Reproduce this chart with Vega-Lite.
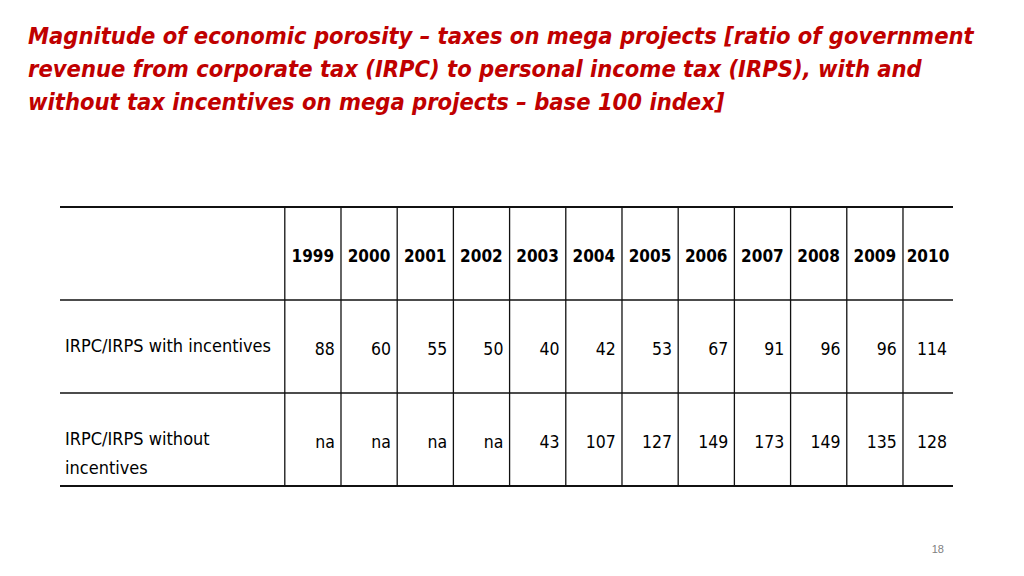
{
  "$schema": "https://vega.github.io/schema/vega-lite/v6.json",
  "width": 893,
  "height": 279,
  "autosize": {"type": "none"},
  "padding": {"left": 60, "top": 207, "right": 71, "bottom": 90},
  "background": "white",
  "config": {"view": {"stroke": null}, "font": "'DejaVu Sans Condensed', 'Liberation Sans', sans-serif"},
  "title": {
    "text": [
      "Magnitude of economic porosity – taxes on mega projects [ratio of government",
      "revenue from corporate tax (IRPC) to personal income tax (IRPS), with and",
      "without tax incentives on mega projects – base 100 index]"
    ],
    "anchor": "start",
    "frame": "group",
    "align": "left",
    "dx": -32,
    "offset": 91,
    "font": "'DejaVu Sans Condensed', 'Liberation Sans', sans-serif",
    "fontSize": 23.5,
    "fontWeight": "bold",
    "fontStyle": "italic",
    "color": "#C00000",
    "lineHeight": 33
  },
  "datasets": {
    "years": [
      {"year": 1999, "row": 0}, {"year": 2000, "row": 0}, {"year": 2001, "row": 0}, {"year": 2002, "row": 0},
      {"year": 2003, "row": 0}, {"year": 2004, "row": 0}, {"year": 2005, "row": 0}, {"year": 2006, "row": 0},
      {"year": 2007, "row": 0}, {"year": 2008, "row": 0}, {"year": 2009, "row": 0}, {"year": 2010, "row": 0}
    ],
    "values": [
      {"series": "IRPC/IRPS with incentives", "row": 1, "year": 1999, "value": "88"},
      {"series": "IRPC/IRPS with incentives", "row": 1, "year": 2000, "value": "60"},
      {"series": "IRPC/IRPS with incentives", "row": 1, "year": 2001, "value": "55"},
      {"series": "IRPC/IRPS with incentives", "row": 1, "year": 2002, "value": "50"},
      {"series": "IRPC/IRPS with incentives", "row": 1, "year": 2003, "value": "40"},
      {"series": "IRPC/IRPS with incentives", "row": 1, "year": 2004, "value": "42"},
      {"series": "IRPC/IRPS with incentives", "row": 1, "year": 2005, "value": "53"},
      {"series": "IRPC/IRPS with incentives", "row": 1, "year": 2006, "value": "67"},
      {"series": "IRPC/IRPS with incentives", "row": 1, "year": 2007, "value": "91"},
      {"series": "IRPC/IRPS with incentives", "row": 1, "year": 2008, "value": "96"},
      {"series": "IRPC/IRPS with incentives", "row": 1, "year": 2009, "value": "96"},
      {"series": "IRPC/IRPS with incentives", "row": 1, "year": 2010, "value": "114"},
      {"series": "IRPC/IRPS without incentives", "row": 2, "year": 1999, "value": "na"},
      {"series": "IRPC/IRPS without incentives", "row": 2, "year": 2000, "value": "na"},
      {"series": "IRPC/IRPS without incentives", "row": 2, "year": 2001, "value": "na"},
      {"series": "IRPC/IRPS without incentives", "row": 2, "year": 2002, "value": "na"},
      {"series": "IRPC/IRPS without incentives", "row": 2, "year": 2003, "value": "43"},
      {"series": "IRPC/IRPS without incentives", "row": 2, "year": 2004, "value": "107"},
      {"series": "IRPC/IRPS without incentives", "row": 2, "year": 2005, "value": "127"},
      {"series": "IRPC/IRPS without incentives", "row": 2, "year": 2006, "value": "149"},
      {"series": "IRPC/IRPS without incentives", "row": 2, "year": 2007, "value": "173"},
      {"series": "IRPC/IRPS without incentives", "row": 2, "year": 2008, "value": "149"},
      {"series": "IRPC/IRPS without incentives", "row": 2, "year": 2009, "value": "135"},
      {"series": "IRPC/IRPS without incentives", "row": 2, "year": 2010, "value": "128"}
    ],
    "rowlabels": [
      {"row": 1, "col": 1995, "label": ["IRPC/IRPS with incentives"]},
      {"row": 2, "col": 1995, "label": ["IRPC/IRPS without", "incentives"]}
    ],
    "hlines": [
      {"row": 0, "kind": "outer"},
      {"row": 1, "kind": "inner"},
      {"row": 2, "kind": "inner"},
      {"row": 3, "kind": "outer"}
    ],
    "page": [{"page": "18", "col": 2010.62, "row": 3.72}]
  },
  "layer": [
    {
      "data": {"name": "hlines"},
      "transform": [{"filter": "datum.kind === 'outer'"}],
      "mark": {"type": "rule", "color": "#111111", "strokeWidth": 2.2},
      "encoding": {
        "y": {"field": "row", "type": "quantitative", "axis": null,
              "scale": {"domain": [0, 3], "reverse": true, "nice": false, "zero": false}}
      }
    },
    {
      "data": {"name": "hlines"},
      "transform": [{"filter": "datum.kind === 'inner'"}],
      "mark": {"type": "rule", "color": "#111111", "strokeWidth": 1.3},
      "encoding": {
        "y": {"field": "row", "type": "quantitative", "axis": null,
              "scale": {"domain": [0, 3], "reverse": true, "nice": false, "zero": false}}
      }
    },
    {
      "data": {"name": "years"},
      "mark": {"type": "rule", "color": "#111111", "strokeWidth": 1.3},
      "encoding": {
        "x": {"field": "year", "type": "quantitative", "axis": null,
              "scale": {"domain": [1995, 2010.89], "nice": false, "zero": false}}
      }
    },
    {
      "data": {"name": "years"},
      "transform": [{"filter": "datum.year < 2010"}],
      "mark": {"type": "text", "align": "center", "baseline": "alphabetic", "dx": 28, "dy": 55,
               "fontSize": 17, "fontWeight": "bold", "color": "#000000"},
      "encoding": {
        "x": {"field": "year", "type": "quantitative", "axis": null,
              "scale": {"domain": [1995, 2010.89], "nice": false, "zero": false}},
        "y": {"field": "row", "type": "quantitative", "axis": null,
              "scale": {"domain": [0, 3], "reverse": true, "nice": false, "zero": false}},
        "text": {"field": "year", "type": "ordinal"}
      }
    },
    {
      "data": {"name": "years"},
      "transform": [{"filter": "datum.year === 2010"}],
      "mark": {"type": "text", "align": "center", "baseline": "alphabetic", "dx": 25, "dy": 55,
               "fontSize": 17, "fontWeight": "bold", "color": "#000000"},
      "encoding": {
        "x": {"field": "year", "type": "quantitative", "axis": null,
              "scale": {"domain": [1995, 2010.89], "nice": false, "zero": false}},
        "y": {"field": "row", "type": "quantitative", "axis": null,
              "scale": {"domain": [0, 3], "reverse": true, "nice": false, "zero": false}},
        "text": {"field": "year", "type": "ordinal"}
      }
    },
    {
      "data": {"name": "values"},
      "transform": [{"filter": "datum.year < 2010"}],
      "mark": {"type": "text", "align": "right", "baseline": "alphabetic", "dx": 50, "dy": 55,
               "fontSize": 17.5, "color": "#000000"},
      "encoding": {
        "x": {"field": "year", "type": "quantitative", "axis": null,
              "scale": {"domain": [1995, 2010.89], "nice": false, "zero": false}},
        "y": {"field": "row", "type": "quantitative", "axis": null,
              "scale": {"domain": [0, 3], "reverse": true, "nice": false, "zero": false}},
        "text": {"field": "value", "type": "nominal"}
      }
    },
    {
      "data": {"name": "values"},
      "transform": [{"filter": "datum.year === 2010"}],
      "mark": {"type": "text", "align": "right", "baseline": "alphabetic", "dx": 44, "dy": 55,
               "fontSize": 17.5, "color": "#000000"},
      "encoding": {
        "x": {"field": "year", "type": "quantitative", "axis": null,
              "scale": {"domain": [1995, 2010.89], "nice": false, "zero": false}},
        "y": {"field": "row", "type": "quantitative", "axis": null,
              "scale": {"domain": [0, 3], "reverse": true, "nice": false, "zero": false}},
        "text": {"field": "value", "type": "nominal"}
      }
    },
    {
      "data": {"name": "rowlabels"},
      "mark": {"type": "text", "align": "left", "baseline": "alphabetic", "dx": 5, "dy": 52,
               "lineHeight": 29, "fontSize": 18, "color": "#000000"},
      "encoding": {
        "x": {"field": "col", "type": "quantitative", "axis": null,
              "scale": {"domain": [1995, 2010.89], "nice": false, "zero": false}},
        "y": {"field": "row", "type": "quantitative", "axis": null,
              "scale": {"domain": [0, 3], "reverse": true, "nice": false, "zero": false}},
        "text": {"field": "label"}
      }
    },
    {
      "data": {"name": "page"},
      "mark": {"type": "text", "align": "center", "baseline": "alphabetic",
               "font": "Liberation Sans", "fontSize": 11, "color": "#808080"},
      "encoding": {
        "x": {"field": "col", "type": "quantitative", "axis": null,
              "scale": {"domain": [1995, 2010.89], "nice": false, "zero": false}},
        "y": {"field": "row", "type": "quantitative", "axis": null,
              "scale": {"domain": [0, 3], "reverse": true, "nice": false, "zero": false}},
        "text": {"field": "page"}
      }
    }
  ]
}
